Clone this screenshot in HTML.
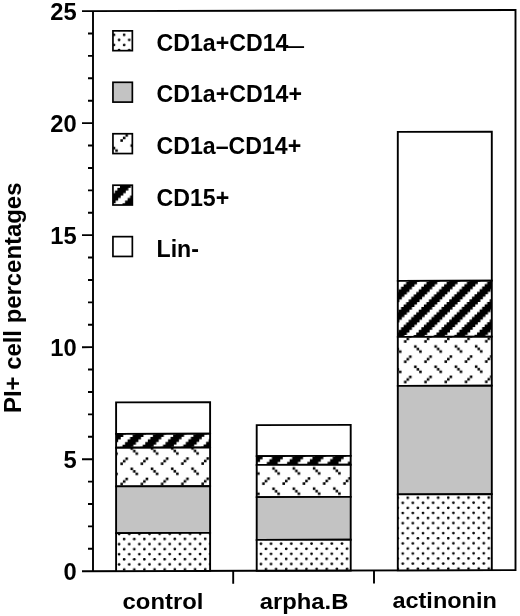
<!DOCTYPE html>
<html><head><meta charset="utf-8">
<style>
html,body{margin:0;padding:0;background:#fff;}
svg{display:block;}
text{font-family:"Liberation Sans",Arial,sans-serif;font-weight:bold;fill:#000;}
</style></head>
<body>
<svg width="520" height="616" viewBox="0 0 520 616">
<defs>
<pattern id="dots" patternUnits="userSpaceOnUse" width="20.260" height="20.260" x="406.53" y="497.36">
<rect width="20.260" height="20.260" fill="#fff"/>
<g fill="#000"><circle cx="1.266" cy="1.266" r="1.35"/><circle cx="11.396" cy="1.266" r="1.35"/><circle cx="6.331" cy="6.331" r="1.35"/><circle cx="16.461" cy="6.331" r="1.35"/><circle cx="1.266" cy="11.396" r="1.35"/><circle cx="11.396" cy="11.396" r="1.35"/><circle cx="6.331" cy="16.461" r="1.35"/><circle cx="16.461" cy="16.461" r="1.35"/></g>
</pattern>
<pattern id="dash" patternUnits="userSpaceOnUse" width="20.260" height="20.260" x="406.53" y="498.06">
<rect width="20.260" height="20.260" fill="#fff"/>
<g fill="#000"><rect x="17.728" y="5.065" width="2.533" height="2.533"/><rect x="0.000" y="2.533" width="2.533" height="2.533"/><rect x="2.533" y="0.000" width="2.533" height="2.533"/><rect x="7.598" y="10.130" width="2.533" height="2.533"/><rect x="10.130" y="12.663" width="2.533" height="2.533"/><rect x="12.663" y="15.195" width="2.533" height="2.533"/></g>
</pattern>
<pattern id="stripe" patternUnits="userSpaceOnUse" width="20.260" height="20.260" x="406.53" y="497.86">
<rect width="20.260" height="20.260" fill="#fff"/>
<g fill="#000"><polygon points="-10.51,-2.53 -10.51,0.00 -13.04,0.00 -13.04,2.53 -15.57,2.53 -15.57,5.07 -18.11,5.07 -18.11,7.60 -20.64,7.60 -20.64,10.13 -23.17,10.13 -23.17,12.66 -25.70,12.66 -25.70,15.20 -28.24,15.20 -28.24,17.73 -30.77,17.73 -30.77,20.26 -33.30,20.26 -33.30,22.79 -22.41,22.79 -22.41,20.26 -19.88,20.26 -19.88,17.73 -17.35,17.73 -17.35,15.20 -14.82,15.20 -14.82,12.66 -12.28,12.66 -12.28,10.13 -9.75,10.13 -9.75,7.60 -7.22,7.60 -7.22,5.07 -4.69,5.07 -4.69,2.53 -2.15,2.53 -2.15,0.00 0.38,0.00 0.38,-2.53"/><polygon points="9.75,-2.53 9.75,0.00 7.22,0.00 7.22,2.53 4.69,2.53 4.69,5.07 2.15,5.07 2.15,7.60 -0.38,7.60 -0.38,10.13 -2.91,10.13 -2.91,12.66 -5.44,12.66 -5.44,15.20 -7.98,15.20 -7.98,17.73 -10.51,17.73 -10.51,20.26 -13.04,20.26 -13.04,22.79 -2.15,22.79 -2.15,20.26 0.38,20.26 0.38,17.73 2.91,17.73 2.91,15.20 5.44,15.20 5.44,12.66 7.98,12.66 7.98,10.13 10.51,10.13 10.51,7.60 13.04,7.60 13.04,5.07 15.57,5.07 15.57,2.53 18.11,2.53 18.11,0.00 20.64,0.00 20.64,-2.53"/><polygon points="30.01,-2.53 30.01,0.00 27.48,0.00 27.48,2.53 24.95,2.53 24.95,5.07 22.41,5.07 22.41,7.60 19.88,7.60 19.88,10.13 17.35,10.13 17.35,12.66 14.82,12.66 14.82,15.20 12.28,15.20 12.28,17.73 9.75,17.73 9.75,20.26 7.22,20.26 7.22,22.79 18.11,22.79 18.11,20.26 20.64,20.26 20.64,17.73 23.17,17.73 23.17,15.20 25.70,15.20 25.70,12.66 28.24,12.66 28.24,10.13 30.77,10.13 30.77,7.60 33.30,7.60 33.30,5.07 35.83,5.07 35.83,2.53 38.37,2.53 38.37,0.00 40.90,0.00 40.90,-2.53"/><polygon points="50.27,-2.53 50.27,0.00 47.74,0.00 47.74,2.53 45.21,2.53 45.21,5.07 42.67,5.07 42.67,7.60 40.14,7.60 40.14,10.13 37.61,10.13 37.61,12.66 35.08,12.66 35.08,15.20 32.54,15.20 32.54,17.73 30.01,17.73 30.01,20.26 27.48,20.26 27.48,22.79 38.37,22.79 38.37,20.26 40.90,20.26 40.90,17.73 43.43,17.73 43.43,15.20 45.96,15.20 45.96,12.66 48.50,12.66 48.50,10.13 51.03,10.13 51.03,7.60 53.56,7.60 53.56,5.07 56.09,5.07 56.09,2.53 58.63,2.53 58.63,0.00 61.16,0.00 61.16,-2.53"/></g>
</pattern>
<pattern id="dotsL" patternUnits="userSpaceOnUse" width="20.260" height="20.260" x="406.53" y="499.56">
<rect width="20.260" height="20.260" fill="#fff"/>
<g fill="#000"><circle cx="1.266" cy="1.266" r="1.35"/><circle cx="11.396" cy="1.266" r="1.35"/><circle cx="6.331" cy="6.331" r="1.35"/><circle cx="16.461" cy="6.331" r="1.35"/><circle cx="1.266" cy="11.396" r="1.35"/><circle cx="11.396" cy="11.396" r="1.35"/><circle cx="6.331" cy="16.461" r="1.35"/><circle cx="16.461" cy="16.461" r="1.35"/></g>
</pattern>
<pattern id="dashL" patternUnits="userSpaceOnUse" width="20.260" height="20.260" x="406.53" y="498.86">
<rect width="20.260" height="20.260" fill="#fff"/>
<g fill="#000"><rect x="17.728" y="5.065" width="2.533" height="2.533"/><rect x="0.000" y="2.533" width="2.533" height="2.533"/><rect x="2.533" y="0.000" width="2.533" height="2.533"/><rect x="7.598" y="10.130" width="2.533" height="2.533"/><rect x="10.130" y="12.663" width="2.533" height="2.533"/><rect x="12.663" y="15.195" width="2.533" height="2.533"/></g>
</pattern>
<pattern id="stripeL" patternUnits="userSpaceOnUse" width="20.260" height="20.260" x="406.53" y="499.46">
<rect width="20.260" height="20.260" fill="#fff"/>
<g fill="#000"><polygon points="-10.51,-2.53 -10.51,0.00 -13.04,0.00 -13.04,2.53 -15.57,2.53 -15.57,5.07 -18.11,5.07 -18.11,7.60 -20.64,7.60 -20.64,10.13 -23.17,10.13 -23.17,12.66 -25.70,12.66 -25.70,15.20 -28.24,15.20 -28.24,17.73 -30.77,17.73 -30.77,20.26 -33.30,20.26 -33.30,22.79 -22.41,22.79 -22.41,20.26 -19.88,20.26 -19.88,17.73 -17.35,17.73 -17.35,15.20 -14.82,15.20 -14.82,12.66 -12.28,12.66 -12.28,10.13 -9.75,10.13 -9.75,7.60 -7.22,7.60 -7.22,5.07 -4.69,5.07 -4.69,2.53 -2.15,2.53 -2.15,0.00 0.38,0.00 0.38,-2.53"/><polygon points="9.75,-2.53 9.75,0.00 7.22,0.00 7.22,2.53 4.69,2.53 4.69,5.07 2.15,5.07 2.15,7.60 -0.38,7.60 -0.38,10.13 -2.91,10.13 -2.91,12.66 -5.44,12.66 -5.44,15.20 -7.98,15.20 -7.98,17.73 -10.51,17.73 -10.51,20.26 -13.04,20.26 -13.04,22.79 -2.15,22.79 -2.15,20.26 0.38,20.26 0.38,17.73 2.91,17.73 2.91,15.20 5.44,15.20 5.44,12.66 7.98,12.66 7.98,10.13 10.51,10.13 10.51,7.60 13.04,7.60 13.04,5.07 15.57,5.07 15.57,2.53 18.11,2.53 18.11,0.00 20.64,0.00 20.64,-2.53"/><polygon points="30.01,-2.53 30.01,0.00 27.48,0.00 27.48,2.53 24.95,2.53 24.95,5.07 22.41,5.07 22.41,7.60 19.88,7.60 19.88,10.13 17.35,10.13 17.35,12.66 14.82,12.66 14.82,15.20 12.28,15.20 12.28,17.73 9.75,17.73 9.75,20.26 7.22,20.26 7.22,22.79 18.11,22.79 18.11,20.26 20.64,20.26 20.64,17.73 23.17,17.73 23.17,15.20 25.70,15.20 25.70,12.66 28.24,12.66 28.24,10.13 30.77,10.13 30.77,7.60 33.30,7.60 33.30,5.07 35.83,5.07 35.83,2.53 38.37,2.53 38.37,0.00 40.90,0.00 40.90,-2.53"/><polygon points="50.27,-2.53 50.27,0.00 47.74,0.00 47.74,2.53 45.21,2.53 45.21,5.07 42.67,5.07 42.67,7.60 40.14,7.60 40.14,10.13 37.61,10.13 37.61,12.66 35.08,12.66 35.08,15.20 32.54,15.20 32.54,17.73 30.01,17.73 30.01,20.26 27.48,20.26 27.48,22.79 38.37,22.79 38.37,20.26 40.90,20.26 40.90,17.73 43.43,17.73 43.43,15.20 45.96,15.20 45.96,12.66 48.50,12.66 48.50,10.13 51.03,10.13 51.03,7.60 53.56,7.60 53.56,5.07 56.09,5.07 56.09,2.53 58.63,2.53 58.63,0.00 61.16,0.00 61.16,-2.53"/></g>
</pattern>
</defs>
<rect width="520" height="616" fill="#fff"/>
<g transform="translate(0,0.242) skewY(-0.149)">
<path d="M82.0,11.1 H515.5 V571.2 H82.0 M93.0,11.1 V571.2" stroke="#000" stroke-width="1.9" fill="none"/>
<path d="M88.0,548.80 H93.0 M88.0,526.39 H93.0 M88.0,503.99 H93.0 M88.0,481.58 H93.0 M82.0,459.18 H93.0 M88.0,436.78 H93.0 M88.0,414.37 H93.0 M88.0,391.97 H93.0 M88.0,369.56 H93.0 M82.0,347.16 H93.0 M88.0,324.76 H93.0 M88.0,302.35 H93.0 M88.0,279.95 H93.0 M88.0,257.54 H93.0 M82.0,235.14 H93.0 M88.0,212.74 H93.0 M88.0,190.33 H93.0 M88.0,167.93 H93.0 M88.0,145.52 H93.0 M82.0,123.12 H93.0 M88.0,100.72 H93.0 M88.0,78.31 H93.0 M88.0,55.91 H93.0 M88.0,33.50 H93.0" stroke="#000" stroke-width="1.9"/>
<g stroke="#000" stroke-width="1.9">
<rect x="116.1" y="402.48" width="94" height="31.50" fill="#fff"/>
<rect x="116.1" y="433.98" width="94" height="13.90" fill="url(#stripe)"/>
<rect x="116.1" y="447.88" width="94" height="38.60" fill="url(#dash)"/>
<rect x="116.1" y="486.48" width="94" height="46.70" fill="#c3c3c3"/>
<rect x="116.1" y="533.18" width="94" height="38.02" fill="url(#dots)"/>
<rect x="256.7" y="425.55" width="94" height="31.00" fill="#fff"/>
<rect x="256.7" y="456.55" width="94" height="8.80" fill="url(#stripe)"/>
<rect x="256.7" y="465.35" width="94" height="32.20" fill="url(#dash)"/>
<rect x="256.7" y="497.55" width="94" height="42.80" fill="#c3c3c3"/>
<rect x="256.7" y="540.35" width="94" height="30.85" fill="url(#dots)"/>
<rect x="397.8" y="132.71" width="94" height="149.00" fill="#fff"/>
<rect x="397.8" y="281.71" width="94" height="56.00" fill="url(#stripe)"/>
<rect x="397.8" y="337.71" width="94" height="49.00" fill="url(#dash)"/>
<rect x="397.8" y="386.71" width="94" height="108.50" fill="#c3c3c3"/>
<rect x="397.8" y="495.21" width="94" height="75.99" fill="url(#dots)"/>
</g>
<path d="M233.2,571.2 V584.2 M374.0,571.2 V584.2" stroke="#000" stroke-width="1.9"/>
</g>
<g stroke="#000" stroke-width="1.7">
<rect x="112.95" y="30.85" width="19.4" height="19.8" fill="url(#dotsL)"/>
<rect x="112.95" y="82.30" width="19.4" height="19.8" fill="#c3c3c3"/>
<rect x="112.95" y="133.75" width="19.4" height="19.8" fill="url(#dashL)"/>
<rect x="112.95" y="185.20" width="19.4" height="19.8" fill="url(#stripeL)"/>
<rect x="112.95" y="236.65" width="19.4" height="19.8" fill="#fff"/>
</g>
<text transform="translate(156.5,50.9) scale(0.994,1)" font-size="23.3" text-anchor="start">CD1a+CD14</text>
<text transform="translate(156.5,101.9) scale(0.994,1)" font-size="23.3" text-anchor="start">CD1a+CD14+</text>
<text transform="translate(156.5,153.9) scale(0.994,1)" font-size="23.3" text-anchor="start">CD1a–CD14+</text>
<text transform="translate(156.5,206.1) scale(0.994,1)" font-size="23.3" text-anchor="start">CD15+</text>
<text transform="translate(156.5,257.2) scale(0.994,1)" font-size="23.3" text-anchor="start">Lin-</text>
<text transform="translate(305.2,51.6) scale(1.62,0.75)" font-size="23.3" text-anchor="end">–</text>
<text transform="translate(76.6,579.8) scale(1.01,1)" font-size="23.5" text-anchor="end">0</text>
<text transform="translate(76.6,467.8) scale(1.01,1)" font-size="23.5" text-anchor="end">5</text>
<text transform="translate(76.6,355.8) scale(1.01,1)" font-size="23.5" text-anchor="end">10</text>
<text transform="translate(76.6,243.7) scale(1.01,1)" font-size="23.5" text-anchor="end">15</text>
<text transform="translate(76.6,131.7) scale(1.01,1)" font-size="23.5" text-anchor="end">20</text>
<text transform="translate(76.6,19.7) scale(1.01,1)" font-size="23.5" text-anchor="end">25</text>
<text transform="translate(163,609.3) scale(1.055,1)" font-size="22.6" text-anchor="middle">control</text>
<text transform="translate(304,609.2) scale(1.055,1)" font-size="22.6" text-anchor="middle">arpha.B</text>
<text transform="translate(444.6,608.2) scale(1.03,1)" font-size="22.8" text-anchor="middle">actinonin</text>
<text transform="translate(21.3,297.8) rotate(-90) scale(1,0.985)" font-size="23.9" text-anchor="middle">PI+ cell percentages</text>
</svg>
</body></html>
